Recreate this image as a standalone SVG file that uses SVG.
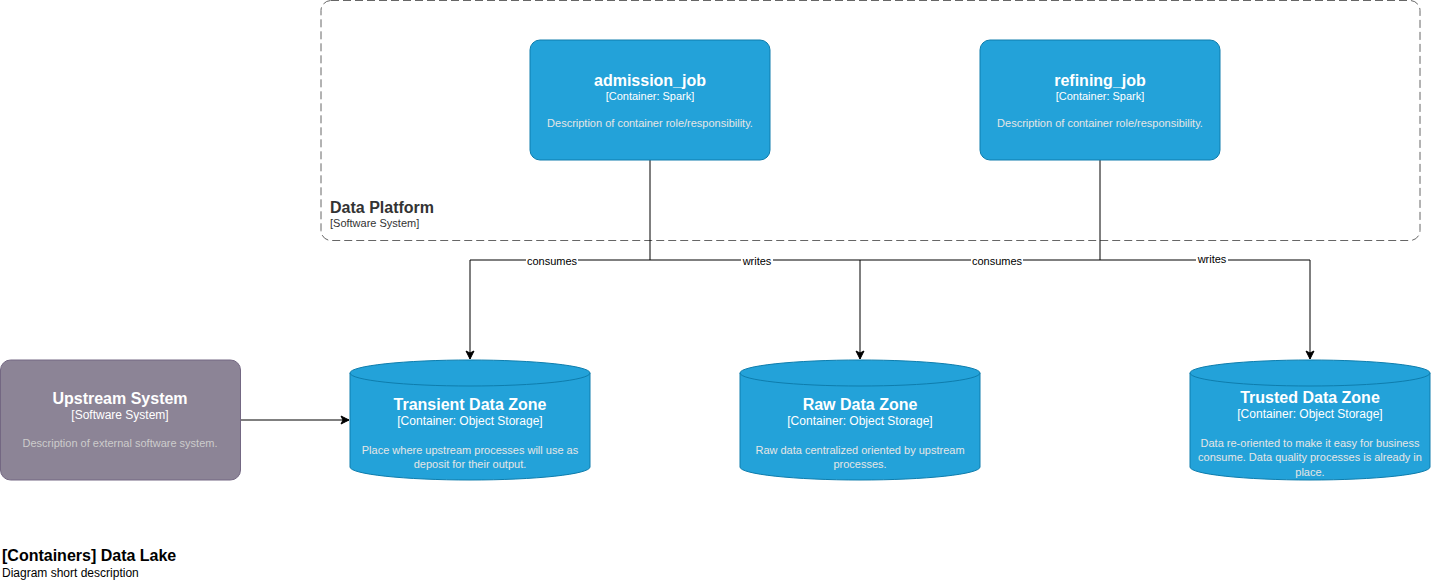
<svg xmlns="http://www.w3.org/2000/svg" width="1431" height="582" viewBox="0 0 1431 582">
<defs>
<marker id="arr" markerWidth="10" markerHeight="10" refX="9" refY="5" orient="auto" markerUnits="userSpaceOnUse">
<path d="M1,1 L9,5 L1,9 L3,5 Z" fill="#000" stroke="#000" stroke-width="1"/>
</marker>
<style>
text{font-family:"Liberation Sans",Arial,sans-serif;}
.t{font-size:16px;font-weight:bold;fill:#fff;text-anchor:middle;}
.s{font-size:11px;fill:#fff;text-anchor:middle;}
.s12{font-size:12px;fill:#fff;text-anchor:middle;}
.d{font-size:11px;fill:#e6e6e6;text-anchor:middle;}
.du{font-size:11px;fill:#cccccc;text-anchor:middle;}
.box{fill:#23A2D9;stroke:#0E7DAD;stroke-width:1;}
.ext{fill:#8C8496;stroke:#736782;stroke-width:1;}
.edge{fill:none;stroke:#000;stroke-width:1;}
.lbl{font-size:11px;fill:#000;text-anchor:middle;}
</style>
</defs>
<rect width="1431" height="582" fill="#fff"/>
<g id="data-platform">
<rect x="321" y="0.5" width="1099" height="240" rx="10" fill="none" stroke="#666" stroke-width="1" stroke-dasharray="8 4"/>
<text x="330" y="213" style="font-size:16px;font-weight:bold;fill:#333">Data Platform</text>
<text x="330" y="227" style="font-size:11px;fill:#333">[Software System]</text>
</g>
<g id="connectors">
<path class="edge" d="M650,160 V260 H470 V359" marker-end="url(#arr)"/>
<path class="edge" d="M650,260 H860 V359" marker-end="url(#arr)"/>
<path class="edge" d="M1100,160 V260 H860"/>
<path class="edge" d="M1100,260 H1310 V359" marker-end="url(#arr)"/>
<path class="edge" d="M240,420 H349" marker-end="url(#arr)"/>
<rect x="526" y="255" width="52" height="11" fill="#fff"/>
<text class="lbl" x="552" y="265">consumes</text>
<rect x="741" y="255" width="32" height="11" fill="#fff"/>
<text class="lbl" x="757" y="265">writes</text>
<rect x="971" y="255" width="52" height="11" fill="#fff"/>
<text class="lbl" x="997" y="265">consumes</text>
<rect x="1196" y="253" width="32" height="11" fill="#fff"/>
<text class="lbl" x="1212" y="263">writes</text>
</g>
<g id="admission_job">
<rect class="box" x="530" y="40" width="240" height="120" rx="10"/>
<text class="t" x="650" y="86">admission_job</text>
<text class="s" x="650" y="100">[Container: Spark]</text>
<text class="d" x="650" y="127">Description of container role/responsibility.</text>
</g>
<g id="refining_job">
<rect class="box" x="980" y="40" width="240" height="120" rx="10"/>
<text class="t" x="1100" y="86">refining_job</text>
<text class="s" x="1100" y="100">[Container: Spark]</text>
<text class="d" x="1100" y="127">Description of container role/responsibility.</text>
</g>
<g id="upstream_system">
<rect class="ext" x="0.5" y="360" width="240" height="120" rx="10"/>
<text class="t" x="120" y="404">Upstream System</text>
<text class="s12" x="120" y="419">[Software System]</text>
<text class="du" x="120" y="447">Description of external software system.</text>
</g>
<g id="transient_zone">
<path class="box" d="M350,373 A120,13 0 0 1 590,373 V467 A120,13 0 0 1 350,467 Z"/>
<path class="box" d="M350,373 A120,13 0 0 0 590,373" fill="none"/>
<text class="t" x="470" y="410">Transient Data Zone</text>
<text class="s12" x="470" y="425">[Container: Object Storage]</text>
<text class="d" x="470" y="454">Place where upstream processes will use as</text>
<text class="d" x="470" y="468">deposit for their output.</text>
</g>
<g id="raw_zone">
<path class="box" d="M740,373 A120,13 0 0 1 980,373 V467 A120,13 0 0 1 740,467 Z"/>
<path class="box" d="M740,373 A120,13 0 0 0 980,373" fill="none"/>
<text class="t" x="860" y="410">Raw Data Zone</text>
<text class="s12" x="860" y="425">[Container: Object Storage]</text>
<text class="d" x="860" y="454">Raw data centralized oriented by upstream</text>
<text class="d" x="860" y="468">processes.</text>
</g>
<g id="trusted_zone">
<path class="box" d="M1190,373 A120,13 0 0 1 1430,373 V467 A120,13 0 0 1 1190,467 Z"/>
<path class="box" d="M1190,373 A120,13 0 0 0 1430,373" fill="none"/>
<text class="t" x="1310" y="403">Trusted Data Zone</text>
<text class="s12" x="1310" y="418">[Container: Object Storage]</text>
<text class="d" x="1310" y="447">Data re-oriented to make it easy for business</text>
<text class="d" x="1310" y="461">consume. Data quality processes is already in</text>
<text class="d" x="1310" y="476">place.</text>
</g>
<g id="title">
<text x="2" y="561" style="font-size:16px;font-weight:bold;fill:#000">[Containers] Data Lake</text>
<text x="2" y="577" style="font-size:12px;fill:#000">Diagram short description</text>
</g>
</svg>
